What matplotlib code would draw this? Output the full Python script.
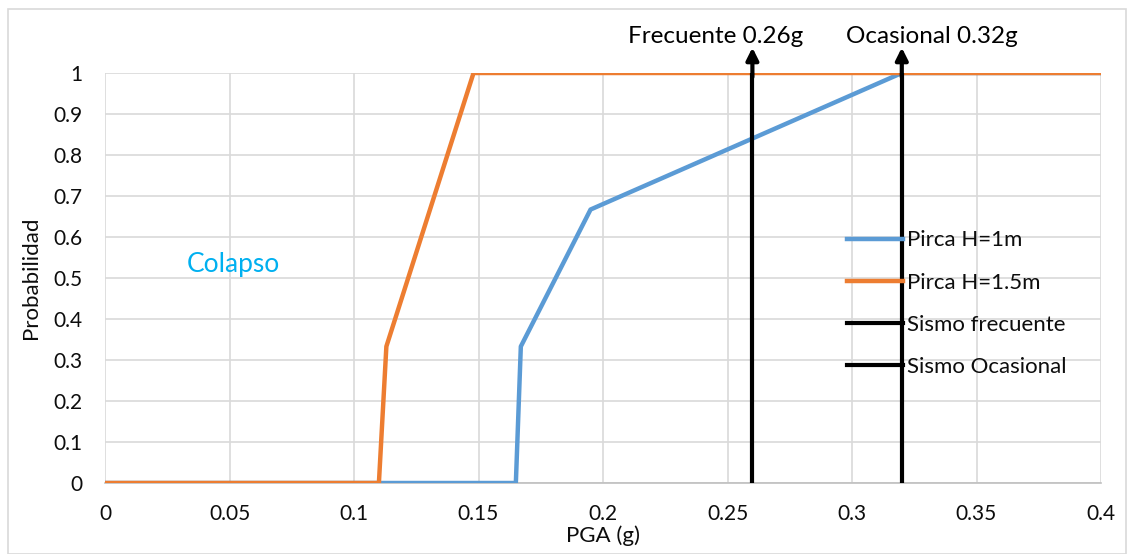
import matplotlib.pyplot as plt
from matplotlib.patches import Rectangle

# PGA (g) vs probability of collapse
pga_h1 = [0.0, 0.165, 0.167, 0.195, 0.32, 0.4]
prob_h1 = [0.0, 0.0, 0.333, 0.667, 1.0, 1.0]

pga_h15 = [0.0, 0.11, 0.113, 0.148, 0.4]
prob_h15 = [0.0, 0.0, 0.333, 1.0, 1.0]

sismo_frecuente = 0.26
sismo_ocasional = 0.32

x_ticks = [0, 0.05, 0.1, 0.15, 0.2, 0.25, 0.3, 0.35, 0.4]
x_tick_labels = ['0', '0.05', '0.1', '0.15', '0.2', '0.25', '0.3', '0.35', '0.4']
y_ticks = [0, 0.1, 0.2, 0.3, 0.4, 0.5, 0.6, 0.7, 0.8, 0.9, 1]
y_tick_labels = ['0', '0.1', '0.2', '0.3', '0.4', '0.5', '0.6', '0.7', '0.8', '0.9', '1']

plt.rcParams['font.family'] = ['Lato', 'DejaVu Sans']
text_color = '#0d0d0d'
blue = '#5B9BD5'
orange = '#ED7D31'

fig = plt.figure(figsize=(11.34, 5.54), dpi=100)
ax = fig.add_axes([105 / 1134, 71 / 554, 996 / 1134, 410 / 554])

fig.patches.append(Rectangle((8 / 1134, 0), 1 - 16 / 1134, 1 - 9 / 554,
                             transform=fig.transFigure, fill=False,
                             edgecolor='#d9d9d9', lw=1.2))

ax.plot(pga_h1, prob_h1, color=blue, lw=3.2, label='Pirca H=1m', zorder=3)
ax.plot(pga_h15, prob_h15, color=orange, lw=3.2, label='Pirca H=1.5m', zorder=4)
ax.plot([sismo_frecuente, sismo_frecuente], [0, 1.0], color='black', lw=3,
        label='Sismo frecuente', zorder=5)
ax.plot([sismo_ocasional, sismo_ocasional], [0, 1.0], color='black', lw=3,
        label='Sismo Ocasional', zorder=5)

# arrows reaching above the plot area
for xv in [sismo_frecuente, sismo_ocasional]:
    ax.annotate('', xy=(xv, 1.062), xytext=(xv, 0.99),
                arrowprops=dict(arrowstyle='-|>', color='black', lw=3,
                                mutation_scale=18, shrinkA=0, shrinkB=0),
                annotation_clip=False, zorder=6)

ax.text(0.2454, 1.088, 'Frecuente 0.26g', ha='center', va='center',
        fontsize=17.5, color='black', clip_on=False)
ax.text(0.3321, 1.088, 'Ocasional 0.32g', ha='center', va='center',
        fontsize=17.5, color='black', clip_on=False)

ax.text(0.0514, 0.533, 'Colapso', ha='center', va='center', fontsize=19,
        color='#00B0F0')

ax.set_xlim(0, 0.4)
ax.set_ylim(0, 1)
ax.set_xticks(x_ticks)
ax.set_xticklabels(x_tick_labels)
ax.set_yticks(y_ticks)
ax.set_yticklabels(y_tick_labels)
ax.tick_params(length=0, labelsize=15, colors=text_color)
ax.tick_params(axis='x', pad=15)
ax.tick_params(axis='y', pad=16)
ax.grid(True, color='#d9d9d9', lw=1.2)
ax.set_axisbelow(True)
for side in ['top', 'right', 'left']:
    ax.spines[side].set_visible(False)
ax.spines['bottom'].set_color('#bfbfbf')
ax.spines['bottom'].set_linewidth(1.2)

ax.set_xlabel('PGA (g)', fontsize=16, color=text_color, labelpad=1)
ax.set_ylabel('Probabilidad', fontsize=16, color=text_color, labelpad=9)

leg = ax.legend(loc='upper left', bbox_to_anchor=(0.736, 0.638), frameon=False,
                fontsize=16, handlelength=2.5, handletextpad=0.2,
                labelspacing=1.0, borderaxespad=0)
for t in leg.get_texts():
    t.set_color(text_color)

fig.savefig('out.png', dpi=100)
